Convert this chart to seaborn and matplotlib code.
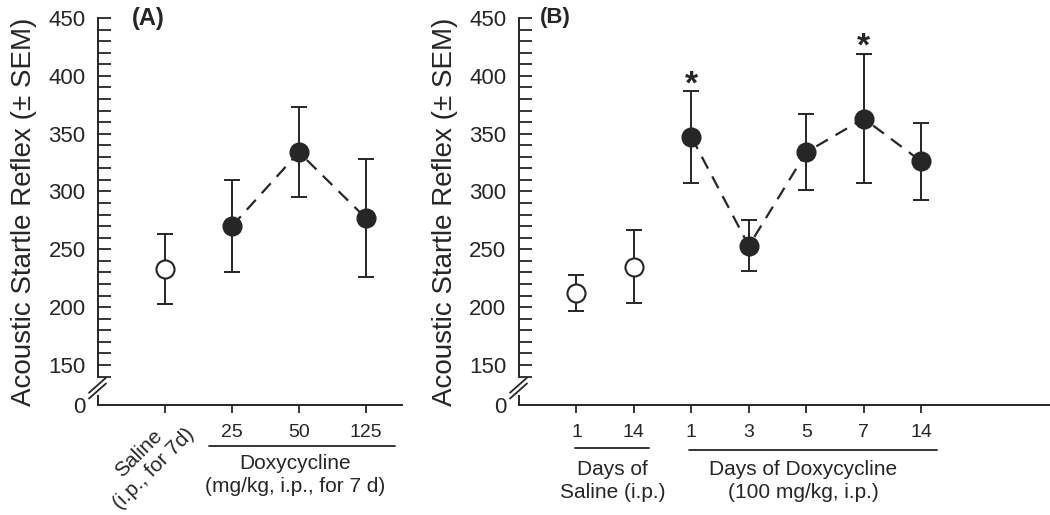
#%% import libraries
import numpy as np
import pandas as pd
import seaborn as sns
import matplotlib
matplotlib.use('Agg')
import matplotlib.pyplot as plt
import matplotlib.transforms as mtrans

#%% data
# panel A: dose response (7 d)
a_groups = ['Saline', '25', '50', '125']
a_mean = [233, 270, 334, 277]
a_sem = [30, 40, 39, 51]
a_treated = [False, True, True, True]

# panel B: time course (100 mg/kg)
b_days = ['1', '14', '1', '3', '5', '7', '14']
b_mean = [212, 235, 347, 253, 334, 363, 326]
b_sem = [15.5, 31.5, 39.5, 22, 33, 56, 33]
b_treated = [False, False, True, True, True, True, True]
b_signif = [False, False, True, False, False, True, False]

#%% plot setup
sns.set_style("ticks")
plt.rcParams['font.family'] = ['Liberation Sans', 'DejaVu Sans']
ink = '#262626'

y_zero = 115.4   # where "0" sits on the broken axis
y_top = 450


def draw_panel(ax, labels, mean, sem, treated, xmax):
    df = pd.DataFrame({'x': np.arange(len(labels)), 'y': mean, 'sem': sem,
                       'treated': treated})
    ax.errorbar(df['x'], df['y'], yerr=df['sem'], fmt='none', ecolor=ink,
                elinewidth=1.4, capsize=6, capthick=1.4, zorder=2)
    sns.lineplot(data=df[df['treated']], x='x', y='y', ax=ax, color=ink,
                 linewidth=1.6, linestyle=(0, (6, 4)), zorder=3)
    sns.scatterplot(data=df[df['treated']], x='x', y='y', ax=ax, color=ink,
                    s=13.5**2, edgecolor=ink, linewidth=1, zorder=4)
    sns.scatterplot(data=df[~df['treated']], x='x', y='y', ax=ax, color='white',
                    s=13**2, edgecolor=ink, linewidth=1.5, zorder=4)
    ax.set_xlim(-1, xmax)
    ax.set_ylim(y_zero, y_top)
    ax.set_xlabel(None)
    ax.set_ylabel('Acoustic Startle Reflex (± SEM)', fontsize=20, labelpad=8)
    ax.set_yticks([y_zero, 150, 200, 250, 300, 350, 400, 450])
    ax.set_yticklabels(['0', '150', '200', '250', '300', '350', '400', '450'],
                       fontsize=16)
    ax.set_yticks(np.arange(140, 451, 10), minor=True)
    ax.tick_params(axis='y', which='both', direction='in', length=9, width=1.3,
                   pad=9, colors=ink)
    ax.yaxis.get_major_ticks()[0].tick1line.set_visible(False)
    ax.set_xticks(df['x'])
    ax.set_xticklabels(labels, fontsize=14)
    ax.tick_params(axis='x', direction='out', length=6, width=1.3, pad=8,
                   colors=ink)
    sns.despine(ax=ax)
    for s in ['left', 'bottom']:
        ax.spines[s].set_linewidth(1.4)
        ax.spines[s].set_color(ink)
    # broken y axis
    ax.spines['left'].set_bounds(140, y_top)
    fig = ax.figure
    w_px = ax.get_position().width * fig.get_figwidth() * fig.dpi
    tr = mtrans.blended_transform_factory(ax.transAxes, ax.transData)
    ax.plot([0, 0], [y_zero, 124], transform=tr, color=ink, lw=1.4,
            clip_on=False, solid_capstyle='butt')
    for dy in [0, 5]:
        ax.plot([-9 / w_px, 8 / w_px], [121 + dy, 134 + dy], transform=tr,
                color=ink, lw=1.3, clip_on=False)
    return df


fig = plt.figure(figsize=(10.5, 5.15), dpi=100)
ax_a = fig.add_axes([98 / 1050, 1 - 405 / 515, 304 / 1050, 387 / 515])
ax_b = fig.add_axes([519 / 1050, 1 - 405 / 515, 531 / 1050, 387 / 515])

#%% panel A
draw_panel(ax_a, a_groups, a_mean, a_sem, a_treated, 3.54)
ax_a.get_xticklabels()[0].set_visible(False)
tr_a = mtrans.blended_transform_factory(ax_a.transData, ax_a.transAxes)
ax_a.text(-0.28, -0.012, 'Saline\n(i.p., for 7d)', transform=tr_a, rotation=45,
          ha='center', va='top', multialignment='center', fontsize=15,
          color=ink, linespacing=1.1)
ax_a.plot([0.66, 3.43], [-0.106, -0.106], transform=tr_a, color=ink, lw=1.3,
          clip_on=False)
ax_a.text(1.94, -0.127, 'Doxycycline\n(mg/kg, i.p., for 7 d)', transform=tr_a,
          ha='center', va='top', fontsize=15, color=ink, linespacing=1.25)
ax_a.text(0.165, 1.0, '(A)', transform=ax_a.transAxes, ha='center', va='center',
          fontsize=17, fontweight='bold', color=ink)

#%% panel B
df_b = draw_panel(ax_b, b_days, b_mean, b_sem, b_treated, 8.24)
tr_b = mtrans.blended_transform_factory(ax_b.transData, ax_b.transAxes)
ax_b.plot([-0.03, 1.27], [-0.111, -0.111], transform=tr_b, color=ink, lw=1.3,
          clip_on=False)
ax_b.plot([1.95, 6.27], [-0.116, -0.116], transform=tr_b, color=ink, lw=1.3,
          clip_on=False)
ax_b.text(0.63, -0.141, 'Days of\nSaline (i.p.)', transform=tr_b, ha='center',
          va='top', fontsize=15, color=ink, linespacing=1.3)
ax_b.text(3.94, -0.141, 'Days of Doxycycline\n(100 mg/kg, i.p.)', transform=tr_b,
          ha='center', va='top', fontsize=15, color=ink, linespacing=1.3)
ax_b.text(0.068, 1.0, '(B)', transform=ax_b.transAxes, ha='center', va='center',
          fontsize=16, fontweight='bold', color=ink)
for x, m, e, sig in zip(df_b['x'], b_mean, b_sem, b_signif):
    if sig:
        ax_b.text(x, m + e - 7.5, '*', ha='center', va='bottom', fontsize=24,
                  fontweight='bold', color=ink)

# save figure
fig.savefig('out.png', dpi=100)
